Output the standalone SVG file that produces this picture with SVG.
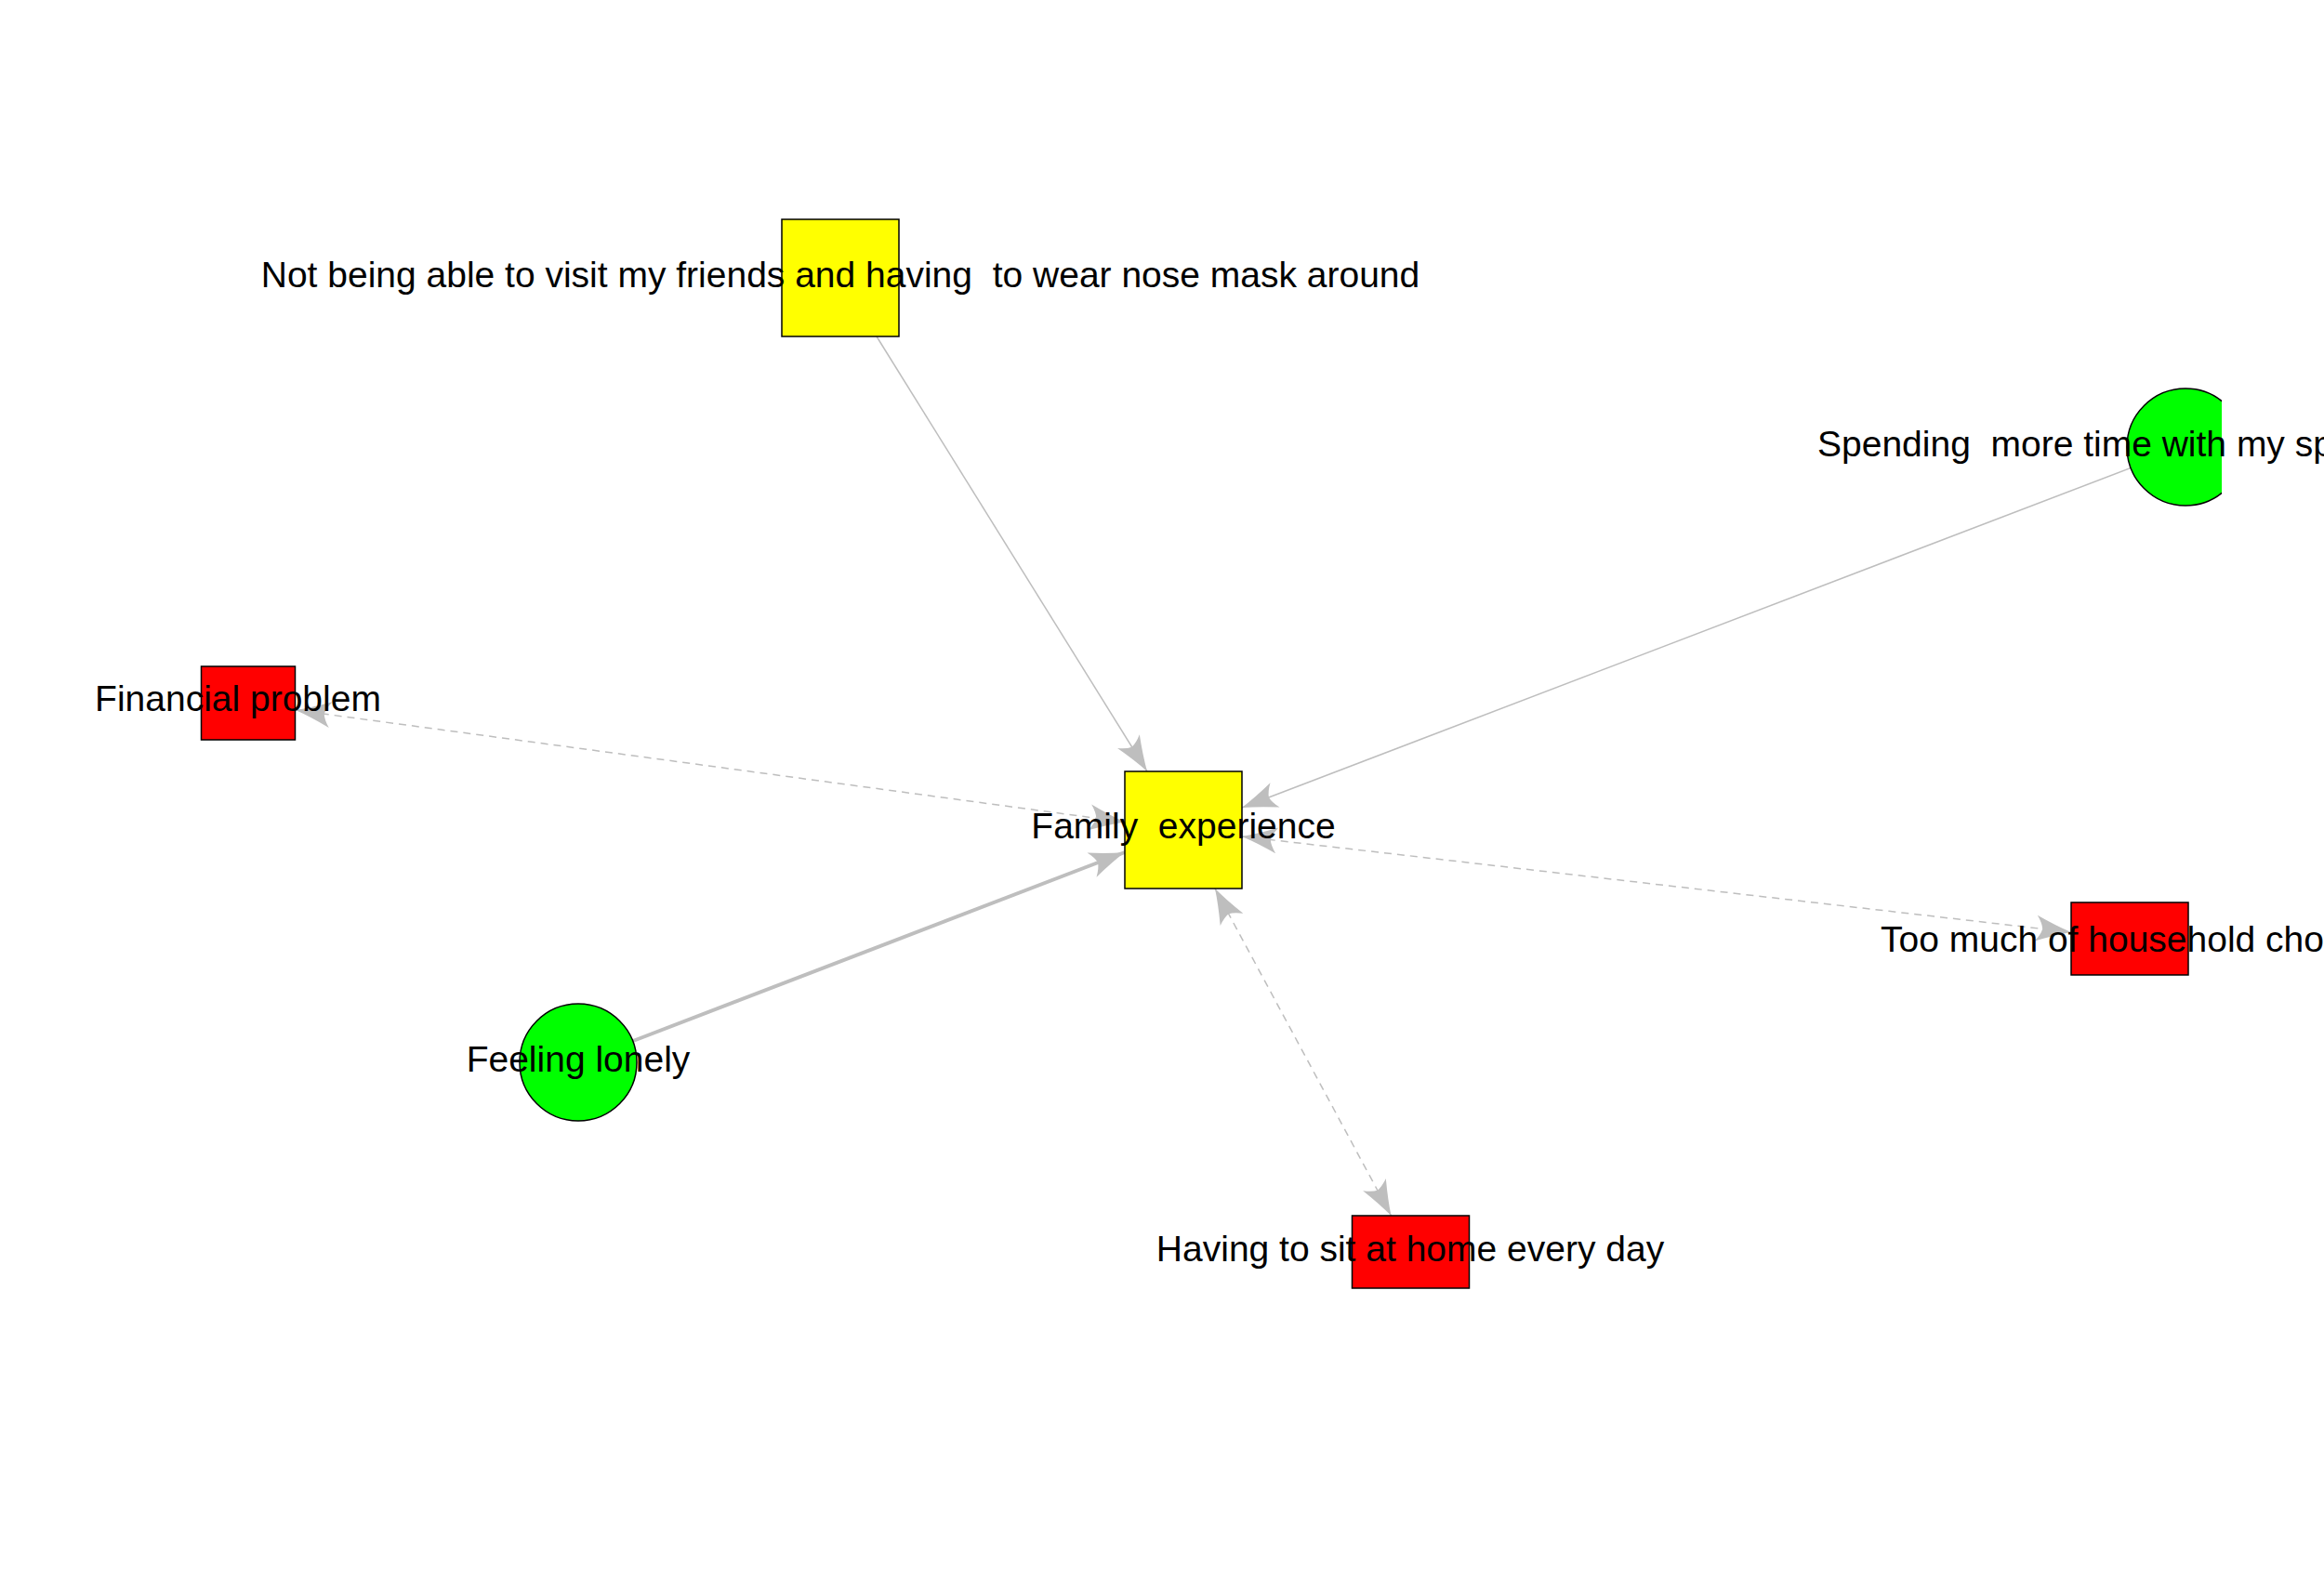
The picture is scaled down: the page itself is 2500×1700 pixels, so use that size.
<svg xmlns="http://www.w3.org/2000/svg" width="2500" height="1700" viewBox="0 0 2500 1700">
  <style>
    .edge { fill: none; stroke: #BEBEBE; stroke-width: 1.5; }
    .dash { stroke-dasharray: 8 6; }
    .thick { stroke-width: 4; }
    .node { stroke: #000000; stroke-width: 1.5; }
    .sq { fill: #FFFF00; }
    .bad { fill: #FF0000; }
    .good { fill: #00FF00; }
    .lbl { font-family: "Liberation Sans", Arial, sans-serif; font-size: 39px; fill: #000000; }
  </style>
  <defs>
    <marker id="arrow" markerUnits="userSpaceOnUse" viewBox="-44 -18 48 36" refX="0" refY="0" markerWidth="48" markerHeight="36" orient="auto-start-reverse">
      <path d="M0,0 Q-17,-5 -38,-14 Q-32,-6 -31,0 Q-32,6 -38,14 Q-17,5 0,0 Z" fill="#BEBEBE"/>
    </marker>
    <clipPath id="plotClip">
      <rect x="0" y="0" width="2390" height="1700"/>
    </clipPath>
  </defs>
  <rect width="2500" height="1700" fill="#FFFFFF"/>

  <g id="edges">
    <line class="edge" x1="943" y1="362" x2="1234" y2="830" marker-end="url(#arrow)"/>
    <line class="edge" x1="2292" y1="503.5" x2="1336" y2="869" marker-end="url(#arrow)"/>
    <line class="edge dash" x1="318" y1="764" x2="1210" y2="884.5" marker-start="url(#arrow)" marker-end="url(#arrow)"/>
    <line class="edge dash" x1="1336" y1="900" x2="2228" y2="1003" marker-start="url(#arrow)" marker-end="url(#arrow)"/>
    <line class="edge dash" x1="1307" y1="956" x2="1496.5" y2="1308" marker-start="url(#arrow)" marker-end="url(#arrow)"/>
    <line class="edge thick" x1="681" y1="1120" x2="1210" y2="917" marker-end="url(#arrow)"/>
  </g>

  <g id="node-not-visiting">
    <rect class="node sq" x="841" y="236" width="126" height="126"/>
  </g>
  <g id="node-family">
    <rect class="node sq" x="1210" y="830" width="126" height="126"/>
  </g>
  <g id="node-spending" clip-path="url(#plotClip)">
    <circle class="node good" cx="2351" cy="481" r="63"/>
  </g>
  <g id="node-financial">
    <rect class="node bad" x="216.5" y="717" width="101" height="79"/>
  </g>
  <g id="node-lonely">
    <circle class="node good" cx="622" cy="1143" r="63"/>
  </g>
  <g id="node-home">
    <rect class="node bad" x="1454.5" y="1308" width="126" height="78"/>
  </g>
  <g id="node-chores">
    <rect class="node bad" x="2228" y="971" width="126" height="78"/>
  </g>

  <g id="labels">
    <text class="lbl" x="904" y="309" text-anchor="middle" xml:space="preserve">Not being able to visit my friends and having  to wear nose mask around</text>
    <text class="lbl" x="1273" y="902" text-anchor="middle" xml:space="preserve">Family  experience</text>
    <text class="lbl" x="1955" y="491" xml:space="preserve">Spending  more time with my sp</text>
    <text class="lbl" x="256" y="765" text-anchor="middle">Financial problem</text>
    <text class="lbl" x="622" y="1153" text-anchor="middle">Feeling lonely</text>
    <text class="lbl" x="1517" y="1357" text-anchor="middle">Having to sit at home every day</text>
    <text class="lbl" x="2023" y="1024">Too much of household cho</text>
  </g>
</svg>
